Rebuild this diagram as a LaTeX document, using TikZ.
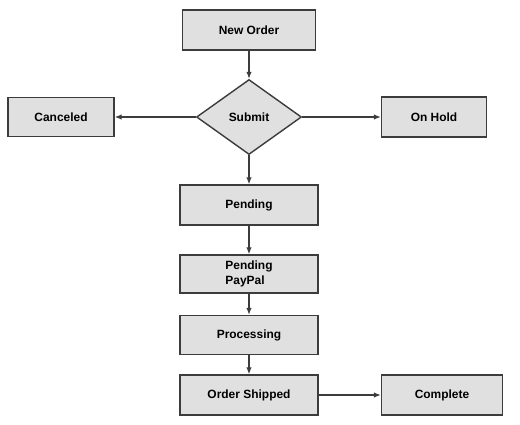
\documentclass[tikz,border=0pt]{standalone}
\usepackage{fontspec}
\setmainfont{Liberation Sans}
\usetikzlibrary{shapes.geometric,arrows.meta}
\definecolor{boxfill}{HTML}{E0E0E0}
\definecolor{boxline}{HTML}{3C3C3C}
\tikzset{
	state/.style={rectangle, draw=boxline, fill=boxfill, line width=1pt,
		minimum width=3.45cm, minimum height=1cm, align=center,
		font=\fontsize{8.5}{10.5}\selectfont\bfseries},
	decision/.style={diamond, draw=boxline, fill=boxfill, line width=1pt,
		minimum width=2.625cm, minimum height=1.875cm, inner sep=0pt, aspect=1.4,
		font=\fontsize{8.5}{10.5}\selectfont\bfseries},
	flow/.style={draw=boxline, line width=0.9pt, -{Latex[length=5pt,width=4pt]}}
}
\begin{document}
\begin{tikzpicture}[x=0.025cm, y=-0.025cm]
	\useasboundingbox (0,0) rectangle (520,424);
	\node[state, minimum width=3.325cm] (neworder) at (249,30) {New Order};
	\node[decision] (submit) at (249,117) {Submit};
	\node[state, minimum width=2.65cm, minimum height=0.975cm] (canceled) at (61,117) {Canceled};
	\node[state, minimum width=2.625cm] (onhold) at (434,117) {On Hold};
	\node[state] (pending) at (249,205) {Pending};
	\node[state, minimum height=0.95cm, align=left] (paypal) at (249,274) {Pending\\PayPal};
	\node[state, minimum height=0.975cm] (processing) at (249,335) {Processing};
	\node[state] (shipped) at (249,395) {Order Shipped};
	\node[state, minimum width=3.025cm] (complete) at (442,395) {Complete};
	% connectors
	\draw[flow] (neworder) -- (submit);
	\draw[flow] (submit) -- (canceled);
	\draw[flow] (submit) -- (onhold);
	\draw[flow] (submit) -- (pending);
	\draw[flow] (pending) -- (paypal);
	\draw[flow] (paypal) -- (processing);
	\draw[flow] (processing) -- (shipped);
	\draw[flow] (shipped) -- (complete);
\end{tikzpicture}
\end{document}
